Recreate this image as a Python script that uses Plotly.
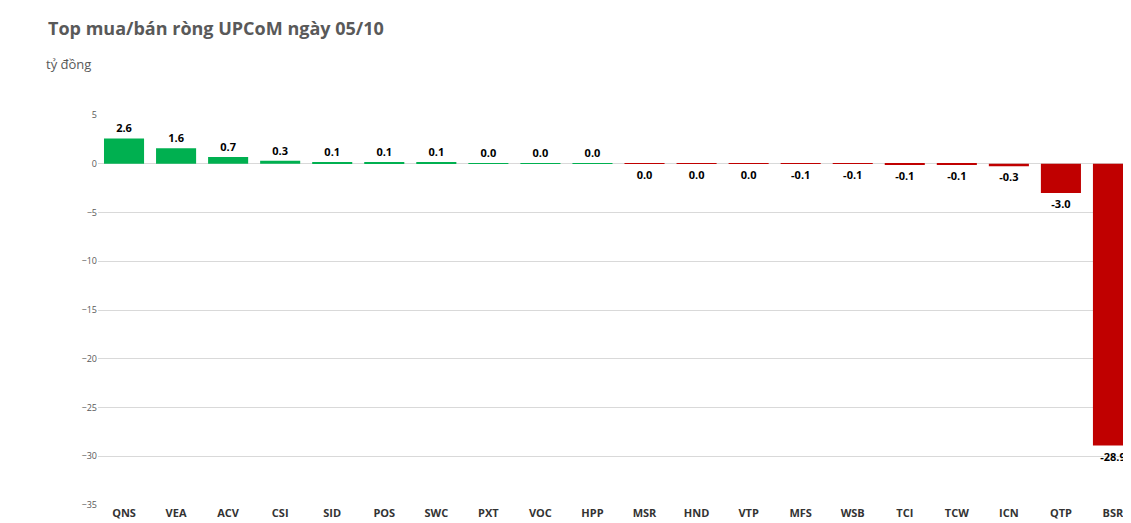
import plotly.graph_objects as go

tickers = ["QNS","VEA","ACV","CSI","SID","POS","SWC","PXT","VOC","HPP",
           "MSR","HND","VTP","MFS","WSB","TCI","TCW","ICN","QTP","BSR"]
values = [2.6,1.6,0.7,0.3,0.1,0.1,0.1,0.04,0.03,0.02,
          -0.001,-0.001,-0.001,-0.002,-0.002,-0.08,-0.09,-0.25,-3.0,-28.9]
labels = ["2.6","1.6","0.7","0.3","0.1","0.1","0.1","0.0","0.0","0.0",
          "0.0","0.0","0.0","-0.1","-0.1","-0.1","-0.1","-0.3","-3.0","-28.9"]

colors = ["#00B050" if v >= 0 else "#C00000" for v in values]

fig = go.Figure(go.Bar(
    x=tickers, y=values, marker_color=colors, marker_line_width=0,
    text=labels, textposition="outside", texttemplate="%{text}",
    textfont=dict(family="Open Sans", size=11, color="black", weight="bold"),
    cliponaxis=False,
))
fig.update_layout(
    width=1131, height=523, plot_bgcolor="white", paper_bgcolor="white",
    margin=dict(l=90, r=0, t=107, b=26, autoexpand=False),
    bargap=0.23, showlegend=False,
    font=dict(family="Open Sans"),
    annotations=[
        dict(text="<b>Top mua/bán ròng UPCoM ngày 05/10</b>", xref="paper", yref="paper",
             x=-90/1041, y=1+87/390, xanchor="left", yanchor="middle", showarrow=False,
             xshift=38, font=dict(size=18, color="#595959")),
        dict(text="tỷ đồng", xref="paper", yref="paper", x=-90/1041, y=1+51/390,
             xanchor="left", yanchor="middle", showarrow=False, xshift=36,
             font=dict(size=13, color="#595959")),
    ],
)
fig.update_yaxes(range=[-35, 5], dtick=5, gridcolor="#D9D9D9", zeroline=False,
                 tickfont=dict(size=9, color="#595959"), ticks="", showline=False,
                 automargin=False)
fig.update_xaxes(tickfont=dict(size=11, color="#333333", weight="bold"),
                 showline=False, ticks="", automargin=False)
fig.write_html("out.html")
